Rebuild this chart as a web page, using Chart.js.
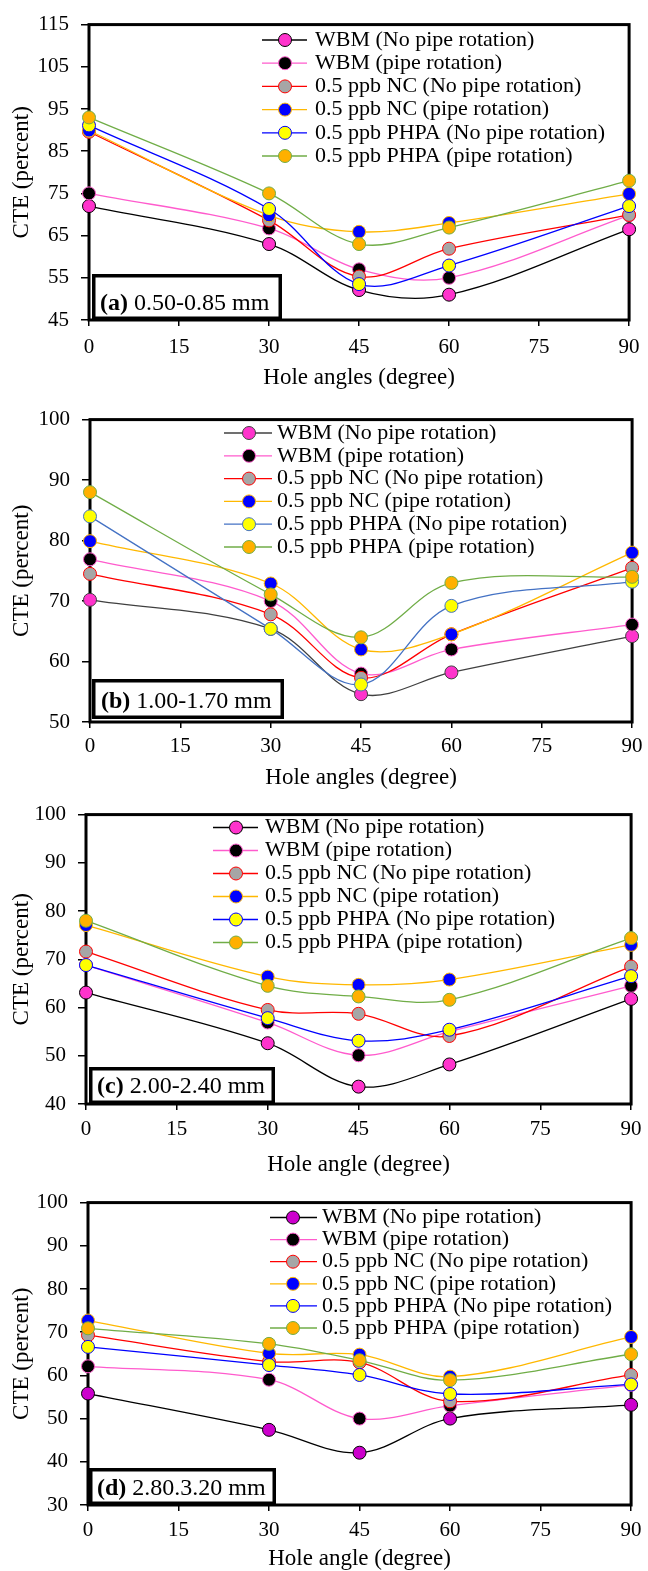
<!DOCTYPE html>
<html>
<head>
<meta charset="utf-8">
<title>CTE vs hole angle</title>
<script src="https://cdn.jsdelivr.net/npm/chart.js@4/dist/chart.umd.min.js"></script>
<style>
	body { margin: 0; background: #fff; overflow: hidden; }
	#wrap { position: relative; width: 648px; height: 1571px; }
	#wrap canvas { position: absolute; left: 0; }
</style>
</head>
<body>
<div id="wrap">
	<canvas id="chartA"></canvas>
	<canvas id="chartB"></canvas>
	<canvas id="chartC"></canvas>
	<canvas id="chartD"></canvas>
</div>
<script>
var angles = [0, 30, 45, 60, 90];
var xTicks = [0, 15, 30, 45, 60, 75, 90];
var seriesNames = ["WBM (No pipe rotation)", "WBM (pipe rotation)", "0.5 ppb NC (No pipe rotation)",
	"0.5 ppb NC (pipe rotation)", "0.5 ppb PHPA (No pipe rotation)", "0.5 ppb PHPA (pipe rotation)"];

// (a) 0.50-0.85 mm
var yTicksA = [45, 55, 65, 75, 85, 95, 105, 115];
var wbmNoRotA = [72, 63, 52.1, 51, 66.5];
var wbmRotA = [75, 66.7, 57, 55, 69.8];
var ncNoRotA = [89.6, 68.6, 55.3, 61.9, 69.9];
var ncRotA = [89.9, 69.8, 65.9, 68, 74.9];
var phpaNoRotA = [91.1, 71.3, 53.5, 57.9, 72];
var phpaRotA = [93, 75, 63, 66.9, 78];

// (b) 1.00-1.70 mm
var yTicksB = [50, 60, 70, 80, 90, 100];
var wbmNoRotB = [70.2, 65.4, 54.6, 58.2, 64.2];
var wbmRotB = [76.9, 70, 58, 62, 66.1];
var ncNoRotB = [74.5, 67.8, 57.3, 64.5, 75.5];
var ncRotB = [79.9, 72.9, 62, 64.5, 78];
var phpaNoRotB = [84, 65.4, 56.2, 69.2, 73.2];
var phpaRotB = [88, 71.1, 64, 73, 74];

// (c) 2.00-2.40 mm
var yTicksC = [40, 50, 60, 70, 80, 90, 100];
var wbmNoRotC = [63.1, 52.6, 43.6, 48.2, 61.8];
var wbmRotC = [68.8, 56.9, 50.1, 55, 64.5];
var ncNoRotC = [71.6, 59.5, 58.7, 54.1, 68.5];
var ncRotC = [77.1, 66.4, 64.7, 65.8, 73];
var phpaNoRotC = [68.8, 57.8, 53.1, 55.4, 66.5];
var phpaRotC = [78, 64.5, 62.3, 61.6, 74.4];

// (d) 2.80-3.20 mm
var yTicksD = [30, 40, 50, 60, 70, 80, 90, 100];
var wbmNoRotD = [55.8, 47.4, 42.1, 50, 53.2];
var wbmRotD = [62.1, 59, 50, 53, 57.8];
var ncNoRotD = [69.3, 63.2, 63, 54, 60.1];
var ncRotD = [72.7, 65.1, 64.8, 59.7, 68.9];
var phpaNoRotD = [66.6, 62.4, 60.1, 55.7, 57.9];
var phpaRotD = [70.9, 67.3, 63.5, 58.9, 64.9];

var serif = '"Liberation Serif", "Times New Roman", serif';
var lineColors = ["#000000", "#FF5BCD", "#FF0000", "#FFB800", "#0000FF", "#70AD47"];
var fillColors = ["#FF33CC", "#000000", "#A6A6A6", "#0000FF", "#FFFF00", "#FFB000"];

var panels = [
	{id: "chartA", top: 0, bottom: 395, plotTop: 16, plotBottom: 320, left: 89, right: 636,
		yTicks: yTicksA, values: [wbmNoRotA, wbmRotA, ncNoRotA, ncRotA, phpaNoRotA, phpaRotA],
		xTitle: "Hole angles (degree)", titleY: 378, tickY: 347,
		tag: "(a)", tagText: " 0.50-0.85 mm", tagBox: [92, 274, 282, 320], tagX: 100, tagY: 304,
		legend: {x1: 262, x2: 307, mx: 285, tx: 315, y0: 40, dy: 23.2},
		lines: lineColors, fills: fillColors},
	{id: "chartB", top: 395, bottom: 790, plotTop: 418, plotBottom: 722, left: 90, right: 636,
		yTicks: yTicksB, values: [wbmNoRotB, wbmRotB, ncNoRotB, ncRotB, phpaNoRotB, phpaRotB],
		xTitle: "Hole angles (degree)", titleY: 778, tickY: 746,
		tag: "(b)", tagText: " 1.00-1.70 mm", tagBox: [92, 679, 284, 719], tagX: 101, tagY: 702,
		legend: {x1: 224, x2: 272, mx: 249, tx: 277, y0: 433, dy: 22.8},
		lines: ["#404040", "#FF5BCD", "#FF0000", "#FFB800", "#4472C4", "#70AD47"], fills: fillColors},
	{id: "chartC", top: 790, bottom: 1178, plotTop: 813, plotBottom: 1104, left: 86, right: 636,
		yTicks: yTicksC, values: [wbmNoRotC, wbmRotC, ncNoRotC, ncRotC, phpaNoRotC, phpaRotC],
		xTitle: "Hole angle (degree)", titleY: 1165, tickY: 1129,
		tag: "(c)", tagText: " 2.00-2.40 mm", tagBox: [89, 1067, 275, 1104], tagX: 97, tagY: 1087,
		legend: {x1: 213, x2: 258, mx: 236, tx: 265, y0: 827.5, dy: 23},
		lines: lineColors, fills: fillColors},
	{id: "chartD", top: 1178, bottom: 1571, plotTop: 1201, plotBottom: 1505, left: 88, right: 636,
		yTicks: yTicksD, values: [wbmNoRotD, wbmRotD, ncNoRotD, ncRotD, phpaNoRotD, phpaRotD],
		xTitle: "Hole angle (degree)", titleY: 1559, tickY: 1530,
		tag: "(d)", tagText: " 2.80.3.20 mm", tagBox: [89, 1468, 276, 1505], tagX: 97, tagY: 1489,
		legend: {x1: 270, x2: 317, mx: 293, tx: 322, y0: 1217.5, dy: 22.1},
		lines: lineColors, fills: ["#CC00CC"].concat(fillColors.slice(1))}
];

Chart.defaults.font.family = serif;
Chart.defaults.color = "#000";

function drawMarker(ctx, x, y, fill, stroke){
	ctx.beginPath();
	ctx.arc(x, y, 6.5, 0, Math.PI * 2);
	ctx.fillStyle = fill;
	ctx.fill();
	ctx.lineWidth = 1;
	ctx.strokeStyle = stroke;
	ctx.stroke();
}

// frame, legend and the size-range tag for one panel
function decoPlugin(p){
	return {
		id: "deco",
		beforeDatasetsDraw: function(chart){
			var a = chart.chartArea, ctx = chart.ctx;
			ctx.save();
			ctx.strokeStyle = "#000";
			ctx.lineWidth = 3;
			ctx.strokeRect(a.left, a.top, a.right - a.left, a.bottom - a.top);
			ctx.restore();
		},
		afterDatasetsDraw: function(chart){
			var ctx = chart.ctx, lg = p.legend;
			ctx.save();
			chart.data.datasets.forEach(function(ds, i){
				var y = lg.y0 + i * lg.dy - p.top;
				ctx.beginPath();
				ctx.moveTo(lg.x1, y);
				ctx.lineTo(lg.x2, y);
				ctx.strokeStyle = ds.borderColor;
				ctx.lineWidth = 1.3;
				ctx.stroke();
				drawMarker(ctx, lg.mx, y, ds.pointBackgroundColor, ds.pointBorderColor);
				ctx.fillStyle = "#000";
				ctx.font = "22px " + serif;
				ctx.textBaseline = "middle";
				ctx.textAlign = "left";
				ctx.fillText(ds.label, lg.tx, y);
			});

			var b = p.tagBox, t = p.top;
			ctx.fillStyle = "#fff";
			ctx.fillRect(b[0], b[1] - t, b[2] - b[0], b[3] - b[1]);
			ctx.lineWidth = 3.5;
			ctx.strokeStyle = "#000";
			ctx.strokeRect(b[0] + 1.75, b[1] - t + 1.75, b[2] - b[0] - 3.5, b[3] - b[1] - 3.5);
			ctx.fillStyle = "#000";
			ctx.textBaseline = "middle";
			ctx.font = "bold 24px " + serif;
			ctx.fillText(p.tag, p.tagX, p.tagY - t);
			var w = ctx.measureText(p.tag).width;
			ctx.font = "24px " + serif;
			ctx.fillText(p.tagText, p.tagX + w, p.tagY - t);
			ctx.restore();
		}
	};
}

function makeChart(p){
	var canvas = document.getElementById(p.id);
	var h = p.bottom - p.top;
	canvas.width = 648;
	canvas.height = h;
	canvas.style.top = p.top + "px";

	var datasets = p.values.map(function(vals, i){
		return {
			label: seriesNames[i],
			data: vals.map(function(v, j){ return {x: angles[j], y: v}; }),
			borderColor: p.lines[i],
			backgroundColor: p.fills[i],
			pointBackgroundColor: p.fills[i],
			pointBorderColor: p.lines[i],
			pointBorderWidth: 1,
			pointRadius: 6.5,
			pointHoverRadius: 6.5,
			borderWidth: 1.3,
			tension: 0.35,
			fill: false,
			clip: false,
			order: 6 - i
		};
	});

	var yt = p.yTicks;
	return new Chart(canvas.getContext("2d"), {
		type: "line",
		data: {datasets: datasets},
		options: {
			responsive: false,
			animation: false,
			devicePixelRatio: 1,
			layout: {padding: {top: p.plotTop - p.top, right: 648 - p.right, bottom: 0, left: 0}},
			plugins: {legend: {display: false}, tooltip: {enabled: false}},
			scales: {
				x: {
					type: "linear", min: xTicks[0], max: xTicks[xTicks.length - 1],
					afterBuildTicks: function(s){ s.ticks = xTicks.map(function(v){ return {value: v}; }); },
					afterFit: function(s){ s.height = p.bottom - p.plotBottom; },
					border: {display: false},
					grid: {drawOnChartArea: false, color: "#000", lineWidth: 1.5, tickLength: 6},
					ticks: {font: {size: 21}, color: "#000", maxRotation: 0,
						padding: p.tickY - p.plotBottom - 6 - 12.6},
					title: {display: true, text: p.xTitle, color: "#000",
						font: {size: 23, lineHeight: 1}, padding: {top: 0, bottom: p.bottom - p.titleY - 11.5}}
				},
				y: {
					min: yt[0], max: yt[yt.length - 1],
					afterBuildTicks: function(s){ s.ticks = yt.map(function(v){ return {value: v}; }); },
					afterFit: function(s){ s.width = p.left; },
					border: {display: false},
					grid: {drawOnChartArea: false, color: "#000", lineWidth: 1.5, tickLength: 8},
					ticks: {font: {size: 21}, color: "#000", padding: 12},
					title: {display: true, text: "CTE (percent)", color: "#000",
						font: {size: 23, lineHeight: 1}, padding: {top: 10.5, bottom: 0}}
				}
			}
		},
		plugins: [decoPlugin(p)]
	});
}

panels.forEach(makeChart);
</script>
</body>
</html>
